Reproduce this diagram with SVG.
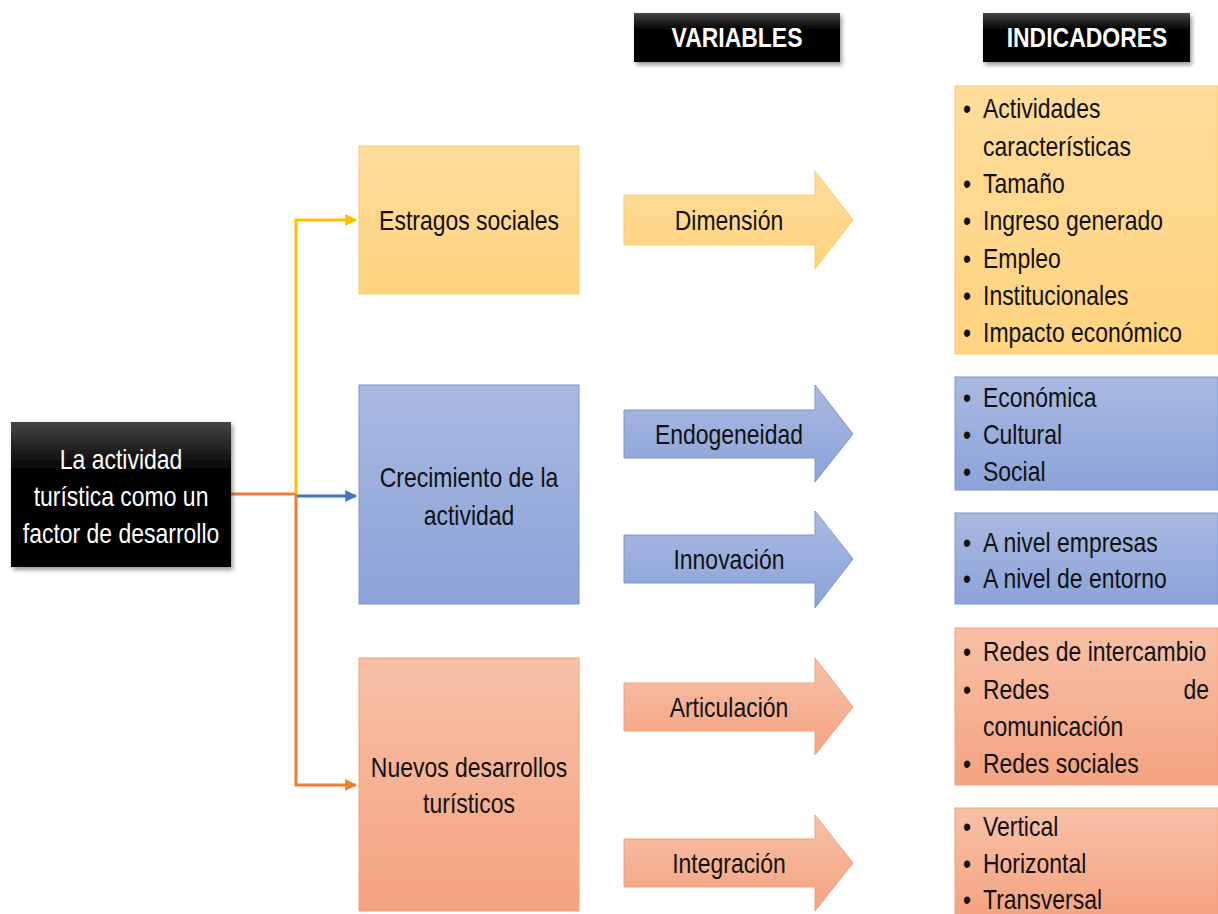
<svg xmlns="http://www.w3.org/2000/svg" width="1218" height="914" viewBox="0 0 1218 914">
<defs>
<linearGradient id="gBlack" x1="0" y1="0" x2="0" y2="1"><stop offset="0" stop-color="#454545"/><stop offset="0.35" stop-color="#000"/><stop offset="1" stop-color="#000"/></linearGradient>
<linearGradient id="gYel" x1="0" y1="0" x2="0" y2="1"><stop offset="0" stop-color="#FFDC9C"/><stop offset="1" stop-color="#FFD47F"/></linearGradient>
<linearGradient id="gBlue" x1="0" y1="0" x2="0" y2="1"><stop offset="0" stop-color="#AAB9E1"/><stop offset="1" stop-color="#8BA3D9"/></linearGradient>
<linearGradient id="gSal" x1="0" y1="0" x2="0" y2="1"><stop offset="0" stop-color="#F8C0A7"/><stop offset="1" stop-color="#F4A381"/></linearGradient>
<filter id="sh" x="-10%" y="-10%" width="125%" height="130%"><feDropShadow dx="2" dy="3" stdDeviation="2" flood-color="#000" flood-opacity="0.4"/></filter>
<marker id="mY" viewBox="0 0 10 10" refX="9" refY="5" markerWidth="4" markerHeight="4" orient="auto" markerUnits="strokeWidth"><path d="M0,0 L10,5 L0,10 z" fill="#FFC000"/></marker>
<marker id="mB" viewBox="0 0 10 10" refX="9" refY="5" markerWidth="4" markerHeight="4" orient="auto" markerUnits="strokeWidth"><path d="M0,0 L10,5 L0,10 z" fill="#4472C4"/></marker>
<marker id="mO" viewBox="0 0 10 10" refX="9" refY="5" markerWidth="4" markerHeight="4" orient="auto" markerUnits="strokeWidth"><path d="M0,0 L10,5 L0,10 z" fill="#ED7D31"/></marker>
</defs>
<style>
.t{font-family:"Liberation Sans",Arial,sans-serif;font-size:28px;fill:#111}
.w{fill:#fff}
.b{font-weight:bold}
.m{text-anchor:middle}
.e{text-anchor:end}
.yel{fill:url(#gYel);stroke:#FFCB66;stroke-width:1}
.blu{fill:url(#gBlue);stroke:#7C96CF;stroke-width:1}
.sal{fill:url(#gSal);stroke:#F2A07C;stroke-width:1}
.blk{fill:url(#gBlack);filter:url(#sh)}
.c{fill:none;stroke-width:3}
</style>
<rect width="1218" height="914" fill="#fff"/>

<g id="connectors">
<path class="c" d="M231,494 H296" stroke="#ED7D31"/>
<path class="c" d="M296,494 V220 H356" stroke="#FFC000" marker-end="url(#mY)"/>
<path class="c" d="M296,496 H356" stroke="#4472C4" marker-end="url(#mB)"/>
<path class="c" d="M296,494 V785 H356" stroke="#ED7D31" marker-end="url(#mO)"/>
</g>

<g id="main">
<rect class="blk" x="11" y="422" width="220" height="145"/>
<g transform="scale(0.82,1)">
<text class="t w m" x="147.6" y="469">La actividad</text>
<text class="t w m" x="147.6" y="506">turística como un</text>
<text class="t w m" x="147.6" y="543">factor de desarrollo</text>
</g>
</g>

<g id="hdr-variables">
<rect class="blk" x="634" y="13" width="206" height="49"/>
<g transform="scale(0.82,1)"><text class="t w b m" x="898.8" y="47">VARIABLES</text></g>
</g>
<g id="hdr-indicadores">
<rect class="blk" x="983" y="13" width="207" height="49"/>
<g transform="scale(0.82,1)"><text class="t w b m" x="1325.6" y="47">INDICADORES</text></g>
</g>

<g id="estragos">
<rect class="yel" x="359" y="146" width="220" height="148"/>
<g transform="scale(0.82,1)"><text class="t m" x="572" y="230">Estragos sociales</text></g>
</g>
<g id="crecimiento">
<rect class="blu" x="359" y="385" width="220" height="219"/>
<g transform="scale(0.82,1)"><text class="t m" x="572" y="487">Crecimiento de la</text><text class="t m" x="572" y="525">actividad</text></g>
</g>
<g id="nuevos">
<rect class="sal" x="359" y="658" width="220" height="253"/>
<g transform="scale(0.82,1)"><text class="t m" x="572" y="777">Nuevos desarrollos</text><text class="t m" x="572" y="813">turísticos</text></g>
</g>

<g id="dimension">
<polygon class="yel" points="624,195 815,195 815,171 853,220 815,269 815,245 624,245"/>
<g transform="scale(0.82,1)"><text class="t m" x="889" y="230">Dimensión</text></g>
</g>
<g id="endogeneidad">
<polygon class="blu" points="624,410 815,410 815,385 853,434 815,482 815,458 624,458"/>
<g transform="scale(0.82,1)"><text class="t m" x="889" y="444">Endogeneidad</text></g>
</g>
<g id="innovacion">
<polygon class="blu" points="624,535 815,535 815,511 853,559 815,608 815,583 624,583"/>
<g transform="scale(0.82,1)"><text class="t m" x="889" y="569">Innovación</text></g>
</g>
<g id="articulacion">
<polygon class="sal" points="624,683 815,683 815,658 853,707 815,755 815,731 624,731"/>
<g transform="scale(0.82,1)"><text class="t m" x="889" y="717">Articulación</text></g>
</g>
<g id="integracion">
<polygon class="sal" points="624,839 815,839 815,815 853,863 815,911 815,887 624,887"/>
<g transform="scale(0.82,1)"><text class="t m" x="889" y="873">Integración</text></g>
</g>

<g id="ind-dimension">
<rect class="yel" x="955" y="86" width="263" height="268"/>
<g transform="scale(0.82,1)">
<text class="t" x="1174.4" y="118">•</text><text class="t" x="1198.8" y="118">Actividades</text>
<text class="t" x="1198.8" y="156">características</text>
<text class="t" x="1174.4" y="193">•</text><text class="t" x="1198.8" y="193">Tamaño</text>
<text class="t" x="1174.4" y="230">•</text><text class="t" x="1198.8" y="230">Ingreso generado</text>
<text class="t" x="1174.4" y="268">•</text><text class="t" x="1198.8" y="268">Empleo</text>
<text class="t" x="1174.4" y="305">•</text><text class="t" x="1198.8" y="305">Institucionales</text>
<text class="t" x="1174.4" y="342">•</text><text class="t" x="1198.8" y="342">Impacto económico</text>
</g>
</g>
<g id="ind-endogeneidad">
<rect class="blu" x="955" y="377" width="263" height="113"/>
<g transform="scale(0.82,1)">
<text class="t" x="1174.4" y="407">•</text><text class="t" x="1198.8" y="407">Económica</text>
<text class="t" x="1174.4" y="444">•</text><text class="t" x="1198.8" y="444">Cultural</text>
<text class="t" x="1174.4" y="481">•</text><text class="t" x="1198.8" y="481">Social</text>
</g>
</g>
<g id="ind-innovacion">
<rect class="blu" x="955" y="513" width="263" height="91"/>
<g transform="scale(0.82,1)">
<text class="t" x="1174.4" y="552">•</text><text class="t" x="1198.8" y="552">A nivel empresas</text>
<text class="t" x="1174.4" y="588">•</text><text class="t" x="1198.8" y="588">A nivel de entorno</text>
</g>
</g>
<g id="ind-articulacion">
<rect class="sal" x="955" y="628" width="263" height="157"/>
<g transform="scale(0.82,1)">
<text class="t" x="1174.4" y="661">•</text><text class="t" x="1198.8" y="661">Redes de intercambio</text>
<text class="t" x="1174.4" y="699">•</text><text class="t" x="1198.8" y="699">Redes</text><text class="t e" x="1474.4" y="699">de</text>
<text class="t" x="1198.8" y="736">comunicación</text>
<text class="t" x="1174.4" y="773">•</text><text class="t" x="1198.8" y="773">Redes sociales</text>
</g>
</g>
<g id="ind-integracion">
<rect class="sal" x="955" y="808" width="263" height="110"/>
<g transform="scale(0.82,1)">
<text class="t" x="1174.4" y="836">•</text><text class="t" x="1198.8" y="836">Vertical</text>
<text class="t" x="1174.4" y="873">•</text><text class="t" x="1198.8" y="873">Horizontal</text>
<text class="t" x="1174.4" y="909">•</text><text class="t" x="1198.8" y="909">Transversal</text>
</g>
</g>
</svg>
